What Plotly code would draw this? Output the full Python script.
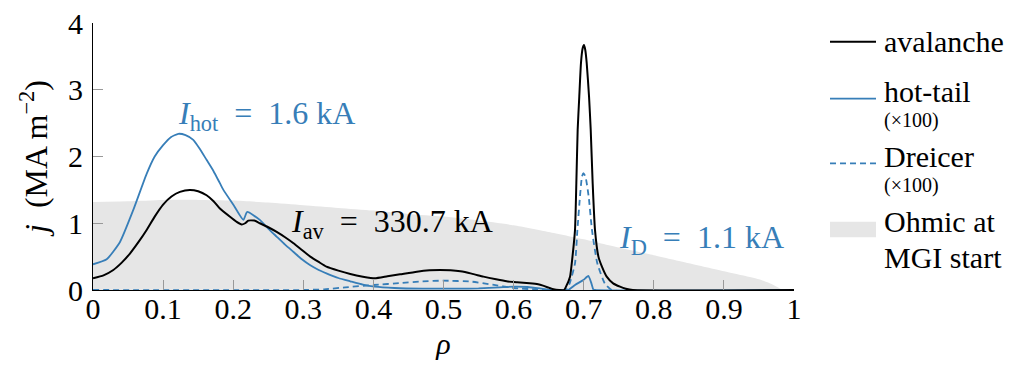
import plotly.graph_objects as go

# ---------------- data ----------------
rho_ohm = [0.0, 0.05, 0.1, 0.15, 0.2, 0.25, 0.3, 0.35, 0.4, 0.45, 0.5, 0.55, 0.6,
           0.65, 0.7, 0.75, 0.8, 0.85, 0.9, 0.95, 0.97, 0.985, 1.0]
j_ohm = [1.32, 1.33, 1.35, 1.35, 1.34, 1.31, 1.27, 1.23, 1.19, 1.14, 1.10, 1.04, 0.97,
         0.87, 0.76, 0.635, 0.52, 0.40, 0.28, 0.16, 0.08, 0.0, 0.0]

rho_av = [0.0, 0.015, 0.029, 0.041, 0.053, 0.065, 0.0765, 0.088, 0.1, 0.112, 0.124,
          0.138, 0.15, 0.162, 0.172, 0.181, 0.195, 0.205, 0.212, 0.217, 0.2215, 0.23,
          0.238, 0.25, 0.262, 0.274, 0.286, 0.298, 0.31, 0.322, 0.333, 0.35, 0.367,
          0.385, 0.402, 0.42, 0.438, 0.462, 0.48, 0.495, 0.51, 0.524, 0.54, 0.557,
          0.575, 0.59, 0.605, 0.623, 0.635, 0.642, 0.65, 0.657, 0.665, 0.672, 0.6748,
          0.6805, 0.684, 0.6876, 0.6895, 0.6914, 0.6937, 0.6961, 0.6985, 0.7004,
          0.7022, 0.7043, 0.7076, 0.71, 0.7128, 0.7161, 0.721, 0.726, 0.7328, 0.742,
          0.7518, 0.76, 0.77, 1.0]
j_av = [0.175, 0.22, 0.30, 0.41, 0.55, 0.72, 0.90, 1.10, 1.28, 1.40, 1.47,
        1.50, 1.48, 1.42, 1.33, 1.22, 1.10, 1.02, 0.98, 1.00, 1.04, 1.04,
        1.00, 0.94, 0.87, 0.79, 0.70, 0.60, 0.50, 0.42, 0.35, 0.29, 0.24,
        0.20, 0.175, 0.205, 0.235, 0.275, 0.295, 0.30, 0.295, 0.28, 0.245, 0.20,
        0.16, 0.13, 0.115, 0.10, 0.085, 0.065, 0.035, 0.01, 0.0, 0.0, 0.05,
        0.20, 0.50, 0.90, 1.60, 2.40, 2.90, 3.40, 3.62, 3.67,
        3.60, 3.40, 2.90, 2.40, 1.60, 0.90, 0.50, 0.35, 0.20, 0.10,
        0.05, 0.02, 0.0, 0.0]

rho_hot = [0.0, 0.0195, 0.0385, 0.0575, 0.0765, 0.088, 0.1, 0.111, 0.1217, 0.132,
           0.143, 0.152, 0.162, 0.172, 0.181, 0.186, 0.2, 0.2145, 0.22, 0.238, 0.25,
           0.262, 0.274, 0.286, 0.298, 0.31, 0.322, 0.333, 0.35, 0.367, 0.385, 0.402,
           0.43, 0.47, 0.52, 0.55, 0.58, 0.6, 0.62, 0.64, 0.655, 0.678, 0.6876, 0.6995,
           0.7066, 0.711, 0.7137, 0.716, 1.0]
j_hot = [0.385, 0.46, 0.72, 1.20, 1.74, 2.0, 2.17, 2.29, 2.34, 2.32,
         2.25, 2.12, 1.95, 1.78, 1.60, 1.50, 1.28, 1.05, 1.17, 1.05, 0.92,
         0.80, 0.68, 0.57, 0.46, 0.37, 0.30, 0.25, 0.18, 0.13, 0.08, 0.05,
         0.03, 0.02, 0.02, 0.025, 0.04, 0.05, 0.045, 0.02, 0.0, 0.0, 0.075, 0.15,
         0.21, 0.10, 0.01, 0.0, 0.0]

rho_dr = [0.0, 0.3, 0.33, 0.36, 0.4, 0.44, 0.47, 0.5, 0.54, 0.57, 0.6, 0.63, 0.66,
          0.675, 0.68, 0.6876, 0.691, 0.6947, 0.6975, 0.6995, 0.7025, 0.7071, 0.7118,
          0.7194, 0.73, 0.74, 1.0]
j_dr = [0.0, 0.0, 0.01, 0.04, 0.075, 0.105, 0.13, 0.14, 0.125, 0.08, 0.03, 0.01, 0.0,
        0.0, 0.1, 0.4, 0.9, 1.4, 1.7, 1.75, 1.7, 1.4, 0.9,
        0.4, 0.1, 0.0, 0.0]

x_ticks = [0, 0.1, 0.2, 0.3, 0.4, 0.5, 0.6, 0.7, 0.8, 0.9, 1]
x_ticklabels = ["0", "0.1", "0.2", "0.3", "0.4", "0.5", "0.6", "0.7", "0.8", "0.9", "1"]
y_ticks = [0, 1, 2, 3, 4]
y_ticklabels = ["0", "1", "2", "3", "4"]

# ---------------- style ----------------
BLUE = "#377eb8"
GREY_FILL = "#e6e6e6"
FONT = "Liberation Serif"
EN = "\u2002"

fig = go.Figure()
fig.add_trace(go.Scatter(x=rho_ohm, y=j_ohm, mode="lines", fill="tozeroy",
                         fillcolor=GREY_FILL, line=dict(width=0, color=GREY_FILL, shape="spline", smoothing=0.6),
                         hoverinfo="skip"))
fig.add_trace(go.Scatter(x=rho_dr, y=j_dr, mode="lines",
                         line=dict(color=BLUE, width=1.8, dash="6px,4px", shape="spline", smoothing=0.5)))
fig.add_trace(go.Scatter(x=rho_hot, y=j_hot, mode="lines",
                         line=dict(color=BLUE, width=1.8, shape="spline", smoothing=0.5)))
fig.add_trace(go.Scatter(x=rho_av, y=j_av, mode="lines",
                         line=dict(color="black", width=2, shape="spline", smoothing=0.5)))

fig.update_layout(
    width=1013, height=365,
    margin=dict(l=93, r=219, t=23, b=75, autoexpand=False),
    paper_bgcolor="white", plot_bgcolor="white",
    showlegend=False,
    font=dict(family=FONT, size=30, color="black"),
)
fig.update_xaxes(range=[0, 1], tickvals=x_ticks, ticktext=x_ticklabels,
                 ticks="inside", ticklen=10, tickcolor="#999999", tickwidth=1,
                 showline=True, linecolor="black", linewidth=1, automargin=False,
                 showgrid=False, zeroline=False, ticklabelstandoff=-8,
                 tickfont=dict(family=FONT, size=30),
                 title=dict(text="<i>ρ</i>", font=dict(family=FONT, size=30), standoff=8))
fig.update_yaxes(range=[0, 4], tickvals=y_ticks, ticktext=y_ticklabels,
                 ticks="inside", ticklen=10, tickcolor="#999999", tickwidth=1,
                 showline=True, linecolor="black", linewidth=1, automargin=False,
                 showgrid=False, zeroline=False, ticklabelstandoff=3,
                 tickfont=dict(family=FONT, size=30),
                 title=dict(text="<i>j</i>" + EN + "(MA\u2009m<sup>−2</sup>)",
                            font=dict(family=FONT, size=32), standoff=10))

# in-plot annotations
fig.add_annotation(x=0.119, y=2.62, xref="x", yref="y", xanchor="left", yanchor="middle",
                   text="<i>I</i><sub>hot</sub>" + EN + "=" + EN + "1.6 kA", showarrow=False,
                   font=dict(family=FONT, size=32, color=BLUE))
fig.add_annotation(x=0.279, y=1.0, xref="x", yref="y", xanchor="left", yanchor="middle",
                   text="<i>I</i><sub>av</sub>" + EN + "=" + EN + "330.7 kA", showarrow=False,
                   font=dict(family=FONT, size=32, color="black"))
fig.add_annotation(x=0.748, y=0.76, xref="x", yref="y", xanchor="left", yanchor="middle",
                   text="<i>I</i><sub>D</sub>" + EN + "=" + EN + "1.1 kA", showarrow=False,
                   font=dict(family=FONT, size=32, color=BLUE))

# manual legend (paper coords)
def px_x(px):
    return (px - 93) / 701.0

def px_y(py):
    return (290 - py) / 267.0

x0, x1, xt = px_x(830), px_x(876), px_x(882)
fig.add_shape(type="line", xref="paper", yref="paper", x0=x0, x1=x1, y0=px_y(41.7), y1=px_y(41.7),
              line=dict(color="black", width=2))
fig.add_shape(type="line", xref="paper", yref="paper", x0=x0, x1=x1, y0=px_y(98.7), y1=px_y(98.7),
              line=dict(color=BLUE, width=1.8))
fig.add_shape(type="line", xref="paper", yref="paper", x0=x0, x1=x1, y0=px_y(163.3), y1=px_y(163.3),
              line=dict(color=BLUE, width=1.8, dash="6px,4px"))
fig.add_shape(type="rect", xref="paper", yref="paper", x0=x0, x1=x1, y0=px_y(237.3), y1=px_y(221.7),
              line=dict(width=0), fillcolor=GREY_FILL)

legend_items = [("avalanche", 41, 30), ("hot-tail", 92, 30), ("(×100)", 120.5, 20),
                ("Dreicer", 156.4, 30), ("(×100)", 185.5, 20),
                ("Ohmic at", 221, 30), ("MGI start", 257, 30)]
for txt, ypx, sz in legend_items:
    fig.add_annotation(x=xt, y=px_y(ypx), xref="paper", yref="paper", xanchor="left",
                       yanchor="middle", text=txt, showarrow=False,
                       font=dict(family=FONT, size=sz, color="black"))

fig.write_html("out.html")
